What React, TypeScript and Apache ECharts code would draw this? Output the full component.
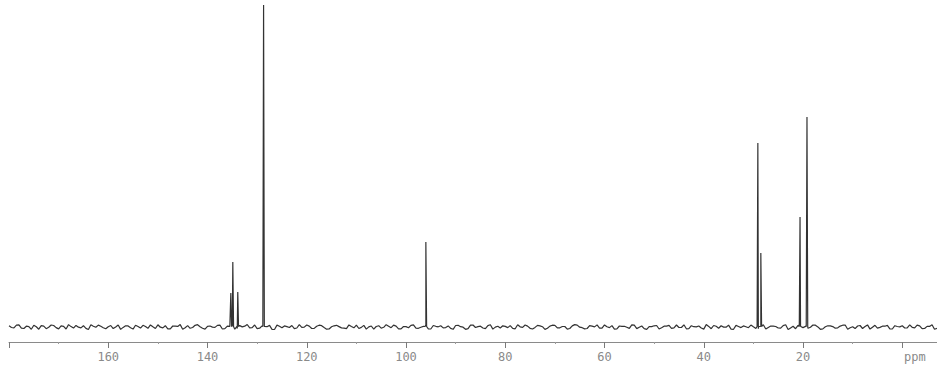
import React, { useEffect, useRef } from "react";
import * as echarts from "echarts";

// 13C NMR spectrum (ppm, intensity in arbitrary units)
const peakPpm = [135.3, 134.9, 133.9, 128.7, 96.0, 29.1, 28.5, 20.6, 19.2];
const peakHeight = [34, 65, 35, 322, 85, 184, 74, 110, 210];

// baseline noise, sampled at whole ppm from 180 ppm downwards
const noiseStartPpm = 180;
const noiseStepPpm = 1;
const noise = [
  1.2, -0.8, 2.1, -1.5, 0.4, 1.8, -2.2, 0.9, -0.3, 1.5,
  -1.9, 0.6, 2.4, -1.1, -0.2, 1.3, -2.5, 0.8, 1.9, -0.7,
  0.3, -1.6, 2.0, -0.4, 1.1, -2.1, 0.5, 1.7, -1.3, 0.2,
  2.2, -0.9, -1.8, 1.0, 0.6, -2.3, 1.4, -0.5, 2.3, -1.2,
  0.7, -0.1, 1.6, -2.0, 0.9, 1.2, -1.4, 0.1, 2.5, -0.6,
  -1.7, 1.1, 0.3, -2.4, 1.9, -0.8, 0.4, 1.5, -1.0, -0.3,
  2.0, -1.5, 0.8, 1.3, -2.2, 0.2, 1.7, -0.9, -1.6, 0.6,
  1.8, -0.4, -2.1, 1.0, 0.5, -1.2, 2.3, -0.7, 0.9, -1.9,
  0.4, 1.6, -1.1, -0.2, 2.1, -2.0, 0.7, 1.2, -0.6, -1.4,
  1.5, 0.3, -2.3, 1.9, -0.5, 0.8, -1.7, 2.2, -0.1, -1.0,
  0.6, 1.4, -1.8, 0.2, 2.0, -1.3, -0.4, 1.1, -2.4, 0.9,
  1.7, -0.8, 0.5, -1.5, 2.4, -0.2, -1.9, 1.3, 0.1, -1.1,
  2.1, -0.6, -2.2, 1.0, 0.7, -1.4, 1.8, -0.3, -1.7, 0.4,
  1.2, -2.0, 0.8, 1.6, -0.9, -0.5, 2.2, -1.6, 0.3, 1.0,
  -2.1, 0.6, 1.5, -1.2, -0.1, 1.9, -2.3, 0.5, 1.1, -0.7,
  0.2, -1.8, 2.3, -0.4, 0.9, -1.0, 1.4, -2.5, 0.7, 1.7,
  -0.6, -1.3, 2.0, 0.1, -1.9, 1.2, 0.4, -0.8, 1.8, -2.2,
  0.3, 1.0, -1.5, 2.1, -0.2, -1.1, 0.8, 1.6, -2.0, 0.5,
  1.3, -0.9, -0.3, 1.9, -1.6, 0.6, 2.2, -1.4,
];
// baseline noise at the half-ppm points (179.5, 178.5, ...)
const noiseHalfStartPpm = 179.5;
const noiseHalf = [
  -0.5, 1.9, -1.2, 0.8, -2.3, 0.2, 1.4, -1.7, 2.0, -0.6,
  1.1, -2.0, 0.4, 1.6, -0.9, -1.4, 2.2, -0.3, 0.7, -1.8,
  1.5, 0.1, -2.4, 1.2, -0.7, 1.8, -1.1, 0.5, 2.1, -1.5,
  -0.2, 1.3, -1.9, 0.9, 2.4, -0.8, -1.3, 1.7, 0.3, -2.1,
  1.0, -0.4, 1.9, -1.6, 0.6, -2.2, 1.4, 0.8, -0.9, 2.0,
  -1.2, 0.2, 1.6, -2.5, 0.7, 1.1, -0.5, -1.7, 2.3, -0.1,
  0.9, -1.4, 1.8, -0.6, -2.0, 1.2, 0.4, -1.1, 2.1, -0.8,
  -1.5, 1.6, 0.1, -2.2, 1.3, -0.3, 0.8, 1.9, -1.8, 0.5,
  -0.7, 2.2, -1.3, 0.6, -1.9, 1.5, 0.2, -0.9, 1.1, -2.3,
  1.7, -0.2, -1.6, 2.0, 0.4, -1.0, 1.4, -2.1, 0.7, 1.2,
  -0.6, -1.4, 2.3, -0.4, 0.9, -2.0, 1.6, 0.3, -1.2, 1.8,
  -0.9, 0.5, -2.2, 1.1, 1.9, -0.7, -1.5, 0.8, 2.1, -1.1,
  0.2, 1.4, -1.9, 0.6, -0.3, 2.2, -1.6, 1.0, -2.4, 0.4,
  1.5, -0.8, 0.9, -1.3, 2.0, -0.5, -1.8, 1.3, 0.1, -1.0,
  2.4, -1.7, 0.7, 1.2, -0.2, -2.1, 1.6, -0.6, 0.3, 1.9,
  -1.4, 0.8, -2.0, 1.0, 0.5, -1.1, 2.2, -0.9, -1.7, 1.4,
  0.6, -0.3, 1.8, -2.3, 0.2, 1.1, -1.2, 0.9, 2.0, -0.7,
  -1.6, 1.5, 0.4, -2.1, 1.7, -0.4, 0.8, -1.9, 1.3, 0.1,
  -1.0, 2.1, -0.8, 1.2, -1.5, 0.6, -2.2,
];

const majorTicks = [0, 20, 40, 60, 80, 100, 120, 140, 160, 180];
const minorTicks = [10, 30, 50, 70, 90, 110, 130, 150, 170];
const tickLabels = [20, 40, 60, 80, 100, 120, 140, 160];

function buildSpectrum(): [number, number][] {
  const pts: [number, number][] = [];
  noise.forEach((v, i) => pts.push([noiseStartPpm - i * noiseStepPpm, v]));
  noiseHalf.forEach((v, i) => pts.push([noiseHalfStartPpm - i * noiseStepPpm, v]));
  peakPpm.forEach((p, i) => {
    pts.push([p + 0.15, 0.5]);
    pts.push([p, peakHeight[i]]);
    pts.push([p - 0.15, 0.5]);
  });
  pts.sort((a, b) => b[0] - a[0]);
  return pts;
}

export default function App() {
  const ref = useRef<HTMLDivElement>(null);
  useEffect(() => {
    if (!ref.current) return;
    const chart = echarts.init(ref.current, null, { renderer: "svg" });
    const axisCommon = {
      type: "value" as const,
      inverse: true,
      min: -7,
      max: 180,
      position: "bottom" as const,
      splitLine: { show: false },
    };
    chart.setOption({
      animation: false,
      backgroundColor: "#ffffff",
      grid: { left: 9, right: 0, top: 5, bottom: 30, outerBoundsMode: "none" },
      xAxis: [
        {
          ...axisCommon,
          axisLine: { show: true, onZero: false, lineStyle: { color: "#8a8a8a", width: 1 } },
          axisTick: {
            show: true,
            customValues: majorTicks,
            length: 6,
            lineStyle: { color: "#7a7a7a", width: 1 },
          },
          axisLabel: {
            show: true,
            customValues: tickLabels,
            color: "#8a8a8a",
            fontSize: 12,
            fontFamily: "DejaVu Sans Mono",
            margin: 9,
          },
        },
        {
          ...axisCommon,
          axisLine: { show: false, onZero: false },
          axisTick: {
            show: true,
            customValues: minorTicks,
            length: 2,
            lineStyle: { color: "#9a9a9a", width: 1 },
          },
          axisLabel: { show: false },
        },
      ],
      yAxis: { type: "value", min: -15, max: 322, show: false },
      series: [
        {
          type: "line",
          xAxisIndex: 0,
          data: buildSpectrum(),
          showSymbol: false,
          lineStyle: { color: "#333333", width: 1.2 },
          silent: true,
        },
      ],
      graphic: [
        {
          type: "text",
          left: 904,
          top: 351,
          style: {
            text: "ppm",
            fill: "#8a8a8a",
            fontSize: 12,
            fontFamily: "DejaVu Sans Mono",
          },
        },
      ],
    });
    return () => chart.dispose();
  }, []);
  return (
    <div
      ref={ref}
      style={{ position: "fixed", left: 0, top: 0, width: 937, height: 372, background: "#fff" }}
    />
  );
}
